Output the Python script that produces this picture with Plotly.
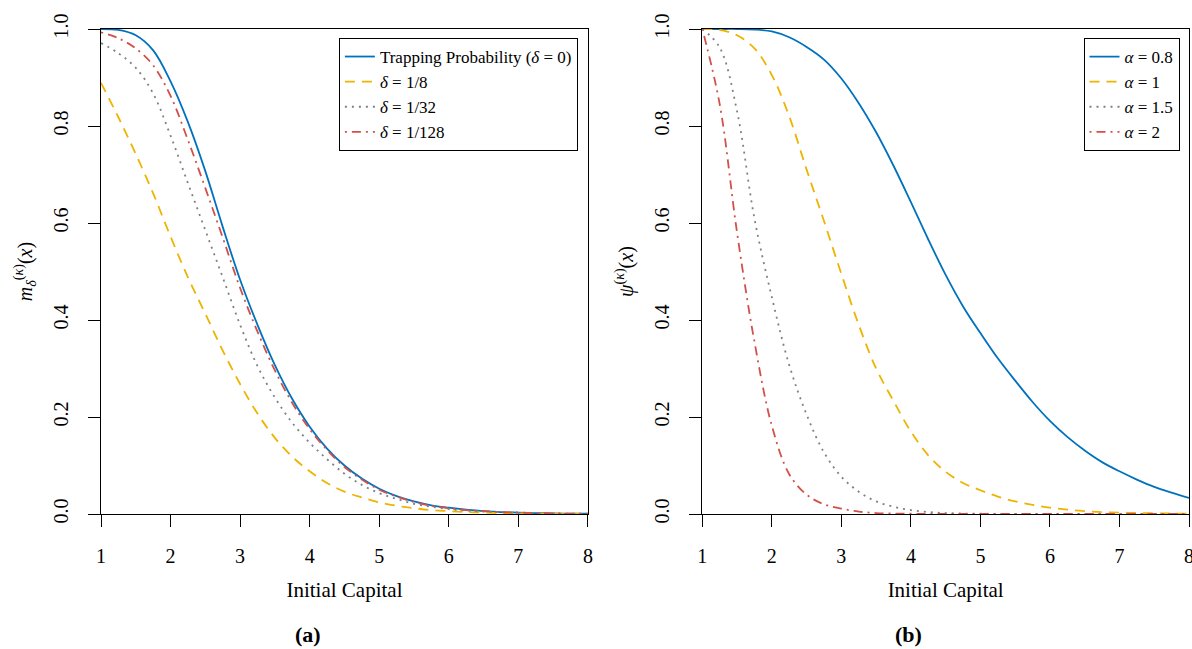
import plotly.graph_objects as go

# Initial capital grid shared by every curve
capital = [1.0, 1.25, 1.5, 1.75, 2.0, 2.25, 2.5, 2.75, 3.0, 3.25, 3.5, 3.75, 4.0, 4.25, 4.5,
           4.75, 5.0, 5.25, 5.5, 5.75, 6.0, 6.25, 6.5, 6.75, 7.0, 7.25, 7.5, 7.75, 8.0]

# Panel (a): m_delta^(kappa)(x) for several delta
trap_delta0 = [1.000, 0.998, 0.987, 0.956, 0.892, 0.808, 0.707, 0.592, 0.483, 0.390, 0.307,
               0.237, 0.180, 0.135, 0.100, 0.073, 0.052, 0.037, 0.026, 0.018, 0.013, 0.009,
               0.006, 0.004, 0.003, 0.002, 0.0012, 0.0008, 0.0005]
delta_1_8 = [0.889, 0.818, 0.742, 0.661, 0.572, 0.488, 0.413, 0.337, 0.268, 0.207, 0.157,
             0.118, 0.088, 0.064, 0.046, 0.034, 0.024, 0.017, 0.012, 0.008, 0.006, 0.004,
             0.003, 0.002, 0.0015, 0.001, 0.0007, 0.0005, 0.0003]
delta_1_32 = [0.971, 0.950, 0.920, 0.867, 0.780, 0.682, 0.585, 0.488, 0.390, 0.305, 0.240,
              0.188, 0.147, 0.113, 0.083, 0.060, 0.043, 0.031, 0.021, 0.015, 0.010, 0.007,
              0.005, 0.0035, 0.0025, 0.0017, 0.0011, 0.0008, 0.0005]
delta_1_128 = [0.993, 0.981, 0.960, 0.925, 0.862, 0.771, 0.672, 0.570, 0.466, 0.376, 0.296,
               0.229, 0.175, 0.132, 0.097, 0.071, 0.050, 0.036, 0.025, 0.017, 0.012, 0.008,
               0.006, 0.004, 0.003, 0.002, 0.0012, 0.0008, 0.0005]

# Panel (b): psi^(kappa)(x) for several alpha
alpha_0_8 = [1.000, 1.000, 1.000, 0.999, 0.995, 0.983, 0.963, 0.937, 0.898, 0.847, 0.787,
             0.718, 0.643, 0.566, 0.493, 0.428, 0.373, 0.321, 0.275, 0.231, 0.192, 0.159,
             0.131, 0.107, 0.088, 0.071, 0.056, 0.044, 0.033]
alpha_1 = [1.000, 0.998, 0.987, 0.960, 0.905, 0.820, 0.710, 0.604, 0.495, 0.390, 0.300,
           0.233, 0.170, 0.121, 0.087, 0.064, 0.049, 0.036, 0.026, 0.019, 0.013, 0.009,
           0.006, 0.004, 0.003, 0.002, 0.0015, 0.001, 0.0008]
alpha_1_5 = [1.000, 0.962, 0.830, 0.609, 0.447, 0.307, 0.205, 0.127, 0.077, 0.046, 0.026,
             0.015, 0.008, 0.004, 0.002, 0.001, 0.0006, 0.0003, 0.0002, 0.0001, 0.0, 0.0,
             0.0, 0.0, 0.0, 0.0, 0.0, 0.0, 0.0]
alpha_2 = [1.000, 0.845, 0.580, 0.355, 0.182, 0.082, 0.040, 0.020, 0.011, 0.005, 0.002,
           0.001, 0.0005, 0.0002, 0.0001, 0.0, 0.0, 0.0, 0.0, 0.0, 0.0, 0.0,
           0.0, 0.0, 0.0, 0.0, 0.0, 0.0, 0.0]

BLUE = "#0072BD"
GOLD = "#EDB400"
GREY = "#808080"
RED = "#D2504A"
FONT = "Liberation Serif"

styles = [
    dict(color=BLUE, width=1.8, dash="solid"),
    dict(color=GOLD, width=1.8, dash="10px,7px"),
    dict(color=GREY, width=1.8, dash="2px,5px"),
    dict(color=RED, width=1.8, dash="2px,5px,9px,5px"),
]

panel_a = [
    ("Trapping Probability (<i>δ</i> = 0)", trap_delta0),
    ("<i>δ</i> = 1/8", delta_1_8),
    ("<i>δ</i> = 1/32", delta_1_32),
    ("<i>δ</i> = 1/128", delta_1_128),
]
panel_b = [
    ("<i>α</i> = 0.8", alpha_0_8),
    ("<i>α</i> = 1", alpha_1),
    ("<i>α</i> = 1.5", alpha_1_5),
    ("<i>α</i> = 2", alpha_2),
]

fig = go.Figure()
for (name, vals), st in zip(panel_a, styles):
    fig.add_trace(go.Scatter(x=capital, y=vals, name=name, mode="lines",
                             line=dict(shape="spline", smoothing=1.0, **st),
                             xaxis="x", yaxis="y", legend="legend"))
for (name, vals), st in zip(panel_b, styles):
    fig.add_trace(go.Scatter(x=capital, y=vals, name=name, mode="lines",
                             line=dict(shape="spline", smoothing=1.0, **st),
                             xaxis="x2", yaxis="y2", legend="legend2"))

# Page geometry (pixels)
W, H = 1192, 649
ML, MR, MT, MB = 100.8, 2.5, 28.5, 134.5
PW, PH = W - ML - MR, H - MT - MB


def px_x(p):
    return (p - ML) / PW


def px_y(p):
    return (H - MB - p) / PH


axis_common = dict(
    showline=True, linecolor="black", linewidth=1, mirror=True,
    ticks="outside", ticklen=12, tickcolor="black", tickwidth=1,
    showgrid=False, zeroline=False, automargin=False,
    ticklabeloverflow="allow",
    tickfont=dict(family=FONT, size=20, color="black"),
)
xcommon = dict(axis_common, range=[1, 8], tickvals=[1, 2, 3, 4, 5, 6, 7, 8],
               ticklabelstandoff=12,
               title=dict(text="Initial Capital", font=dict(family=FONT, size=21, color="black"),
                          standoff=16))
ycommon = dict(axis_common, range=[0, 1], tickvals=[0, 0.2, 0.4, 0.6, 0.8, 1.0],
               ticktext=["0.0", "0.2", "0.4", "0.6", "0.8", "1.0"],
               tickangle=-90, ticklabelstandoff=12)

legend_common = dict(yanchor="top", y=px_y(37.5), xanchor="right",
                     bordercolor="black", borderwidth=1, bgcolor="white",
                     font=dict(family=FONT, size=17, color="black"), tracegroupgap=0)

fig.update_layout(
    width=W, height=H, autosize=False,
    margin=dict(l=ML, r=MR, t=MT, b=MB, pad=0),
    paper_bgcolor="white", plot_bgcolor="white",
    font=dict(family=FONT, size=20, color="black"),
    xaxis=dict(xcommon, domain=[0, px_x(588)], anchor="y"),
    yaxis=dict(ycommon, domain=[0, 1], anchor="x",
               title=dict(text="<i>m</i><sub><i>δ</i></sub><sup>(<i>κ</i>)</sup>(<i>x</i>)",
                          font=dict(family=FONT, size=20, color="black"), standoff=12)),
    xaxis2=dict(xcommon, domain=[px_x(702.5), 1], anchor="y2"),
    yaxis2=dict(ycommon, domain=[0, 1], anchor="x2",
                title=dict(text="<i>ψ</i><sup>(<i>κ</i>)</sup>(<i>x</i>)",
                           font=dict(family=FONT, size=20, color="black"), standoff=12)),
    legend=dict(legend_common, x=px_x(578)),
    legend2=dict(legend_common, x=px_x(1180)),
    annotations=[
        dict(text="<b>(a)</b>", x=px_x(308), y=px_y(635), xref="paper", yref="paper",
             xanchor="center", yanchor="middle", showarrow=False,
             font=dict(family=FONT, size=22, color="black")),
        dict(text="<b>(b)</b>", x=px_x(909), y=px_y(635), xref="paper", yref="paper",
             xanchor="center", yanchor="middle", showarrow=False,
             font=dict(family=FONT, size=22, color="black")),
    ],
)

fig.write_html("out.html")
